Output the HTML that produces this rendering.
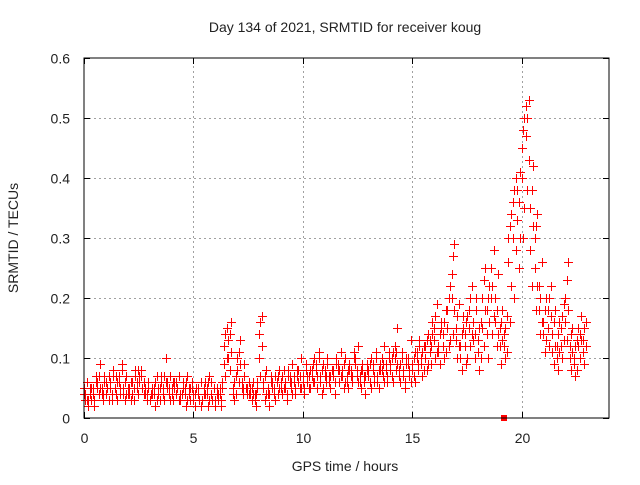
<!DOCTYPE html>
<html><head><meta charset="utf-8"><style>
body{margin:0;background:#fff}
svg text{font-family:"Liberation Sans",sans-serif;font-size:14px;fill:#222}
</style></head><body>
<svg id="chart" width="640" height="480" viewBox="0 0 640 480" xmlns="http://www.w3.org/2000/svg">
<text x="345" y="32" text-anchor="middle">Day 134 of 2021, SRMTID for receiver koug</text>
<text x="345" y="471" text-anchor="middle">GPS time / hours</text>
<text x="18" y="238" text-anchor="middle" transform="rotate(-90 18 238)">SRMTID / TECUs</text>
<g id="grid"></g>
<g id="ticks"></g>
<g id="marks"></g>
<rect x="84" y="58" width="525" height="360" fill="none" stroke="#000" stroke-width="1"/>
</svg>
<script>
const xTicks=[0,5,10,15,20];
const yTicks=[0,0.1,0.2,0.3,0.4,0.5,0.6];
const yTickLabels=["0","0.1","0.2","0.3","0.4","0.5","0.6"];
const binHours=0.2;
const seriesA=[.05,.03,.04,.06,.05,.04,.06,.05,.07,.05,.04,.06,.05,.08,.04,.03,.05,.04,.04,.06,.05,.04,.03,.05,.04,
.03,.04,.03,.05,.04,.03,.04,.12,.13,.05,.10,.06,.05,.04,.03,.14,.06,.04,.05,.06,.06,.05,.07,.06,.08,
.07,.06,.08,.09,.07,.08,.06,.07,.09,.08,.07,.08,.10,.07,.06,.08,.09,.07,.10,.08,.09,.12,.08,.07,.10,
.09,.11,.10,.12,.13,.15,.12,.14,.18,.24,.15,.12,.14,.18,.16,.13,.20,.18,.25,.20,.15,.14,.30,.36,.38,
.45,.52,.35,.30,.22,.16,.18,.14,.12,.15,.20,.12,.10,.15,.13];
const seriesB=[.03,.04,.02,.04,.03,.05,.03,.04,.04,.03,.05,.03,.04,.05,.03,.04,.02,.05,.03,.04,.03,.05,.04,.02,.03,
.02,.03,.05,.02,.03,.05,.02,.07,.08,.03,.06,.04,.04,.03,.02,.07,.03,.02,.04,.04,.04,.03,.05,.04,.05,
.04,.05,.06,.05,.04,.06,.05,.04,.06,.05,.05,.06,.07,.05,.04,.06,.06,.05,.07,.06,.07,.08,.06,.05,.07,
.07,.08,.07,.08,.09,.10,.09,.10,.12,.14,.10,.08,.09,.12,.10,.08,.12,.10,.14,.12,.09,.10,.16,.20,.25,
.30,.38,.22,.18,.14,.11,.12,.09,.08,.10,.13,.08,.07,.10,.09];
const seriesC=[.06,.05,.07,.09,.06,.07,.08,.06,.09,.07,.06,.08,.07,.06,.06,.05,.07,.06,.10,.07,.06,.07,.05,.07,.06,
.05,.06,.04,.07,.05,.04,.06,.15,.16,.07,.13,.09,.06,.06,.05,.17,.08,.06,.07,.08,.08,.07,.09,.08,.10,
.09,.08,.10,.11,.09,.10,.08,.09,.11,.10,.09,.11,.12,.09,.08,.10,.11,.09,.12,.10,.11,.15,.10,.09,.13,
.11,.13,.12,.14,.16,.19,.15,.18,.22,.29,.19,.15,.17,.22,.20,.16,.25,.22,.28,.24,.18,.17,.34,.40,.41,
.50,.53,.42,.34,.26,.20,.22,.18,.16,.19,.26,.15,.13,.17,.16];
const seriesD=[.04,.02,.05,.05,.04,.06,.05,.05,.06,.04,.05,.04,.06,.07,.05,.03,.04,.05,.05,.05,.04,.06,.04,.04,.05,
.04,.05,.03,.04,.06,.02,.05,.09,.10,.04,.08,.05,.05,.05,.04,.10,.05,.05,.06,.06,.05,.06,.06,.07,.06,
.06,.07,.07,.08,.06,.07,.07,.08,.08,.07,.06,.07,.09,.06,.07,.07,.08,.06,.08,.09,.08,.10,.07,.08,.09,
.08,.10,.09,.10,.11,.13,.11,.12,.15,.20,.13,.10,.12,.15,.13,.11,.15,.14,.20,.16,.12,.12,.26,.30,.33,
.40,.47,.28,.25,.18,.14,.15,.11,.10,.12,.16,.10,.09,.12,.11];
const seriesE=[.04,.05,.03,.07,.04,.05,.04,.07,.05,.06,.04,.05,.08,.05,.04,.04,.06,.03,.07,.05,.06,.05,.04,.06,.05,
.04,.03,.04,.06,.03,.04,.03,.14,.14,.06,.11,.05,.05,.05,.04,.16,.07,.04,.05,.07,.07,.04,.06,.05,.07,
.05,.07,.09,.07,.08,.07,.07,.06,.08,.09,.08,.07,.08,.08,.07,.09,.07,.08,.09,.07,.10,.11,.09,.06,.08,
.10,.09,.11,.13,.12,.17,.14,.16,.20,.27,.17,.14,.16,.20,.14,.15,.23,.20,.22,.18,.16,.15,.32,.38,.36,
.48,.50,.38,.32,.20,.18,.20,.16,.14,.17,.23,.14,.12,.14,.15];
const seriesF=[.03,.03,.06,.05,.07,.03,.07,.03,.08,.04,.03,.07,.06,.04,.05,.04,.03,.07,.06,.03,.05,.03,.06,.03,.05,
.05,.02,.06,.03,.05,.03,.05,.10,.11,.04,.09,.07,.04,.04,.06,.12,.04,.07,.03,.05,.05,.08,.04,.07,.05,
.08,.05,.06,.10,.05,.09,.08,.10,.07,.06,.08,.10,.06,.08,.09,.05,.10,.08,.06,.11,.06,.09,.11,.10,.06,
.06,.12,.08,.09,.14,.11,.16,.11,.13,.18,.12,.17,.10,.14,.18,.10,.18,.16,.17,.14,.13,.11,.22,.28,.30,
.35,.43,.32,.22,.16,.13,.17,.12,.11,.13,.18,.11,.08,.13,.12];
const squareMarker=[19.2,0];

const NS="http://www.w3.org/2000/svg";
const X0=84,X1=609,Y0=418,Y1=58,XMAX=24,YMAX=0.6;
const xs=h=>X0+(X1-X0)*h/XMAX;
const ys=v=>Y0-(Y0-Y1)*v/YMAX;
function mk(tag,attrs,parent){const e=document.createElementNS(NS,tag);for(const k in attrs)e.setAttribute(k,attrs[k]);parent.appendChild(e);return e;}
const grid=document.getElementById('grid'),ticks=document.getElementById('ticks'),marks=document.getElementById('marks');
xTicks.forEach(t=>{
  const x=Math.round(xs(t))+0.5;
  if(t>0){const g=mk('line',{x1:x,y1:Y0,x2:x,y2:Y1,stroke:'#a0a0a0','stroke-dasharray':'2,3'},grid);
  
  }
  mk('line',{x1:x,y1:Y0,x2:x,y2:Y0-6,stroke:'#000'},ticks);
  mk('line',{x1:x,y1:Y1,x2:x,y2:Y1+6,stroke:'#000'},ticks);
  const l=mk('text',{x:x,y:443,'text-anchor':'middle'},ticks);l.textContent=String(t);
  
  
});
yTicks.forEach((t,i)=>{
  const y=Math.round(ys(t))+0.5;
  if(t>0&&t<YMAX){const g=mk('line',{x1:X0,y1:y,x2:X1,y2:y,stroke:'#a0a0a0','stroke-dasharray':'2,3'},grid);
  
  }
  mk('line',{x1:X0,y1:y,x2:X0+6,y2:y,stroke:'#000'},ticks);
  mk('line',{x1:X1,y1:y,x2:X1-6,y2:y,stroke:'#000'},ticks);
  const l=mk('text',{x:70,y:y+5,'text-anchor':'end'},ticks);l.textContent=yTickLabels[i];
  
  
});
let d="";
[seriesA,seriesB,seriesC,seriesD,seriesE,seriesF].forEach((s,si)=>{
  s.forEach((v,i)=>{
    const x=Math.round(xs(i*binHours+(si%3)*0.065))+0.5,y=Math.round(ys(v))+0.5;
    d+=`M${x-4.5} ${y}h9M${x} ${y-4.5}v9`;
  });
});
const p=mk('path',{d:d,stroke:'#f00','stroke-width':1,fill:'none','shape-rendering':'crispEdges'},marks);


const sq=mk('rect',{x:xs(squareMarker[0])-3,y:ys(squareMarker[1])-3,width:6,height:6,fill:'#f00'},marks);


</script>
</body></html>
